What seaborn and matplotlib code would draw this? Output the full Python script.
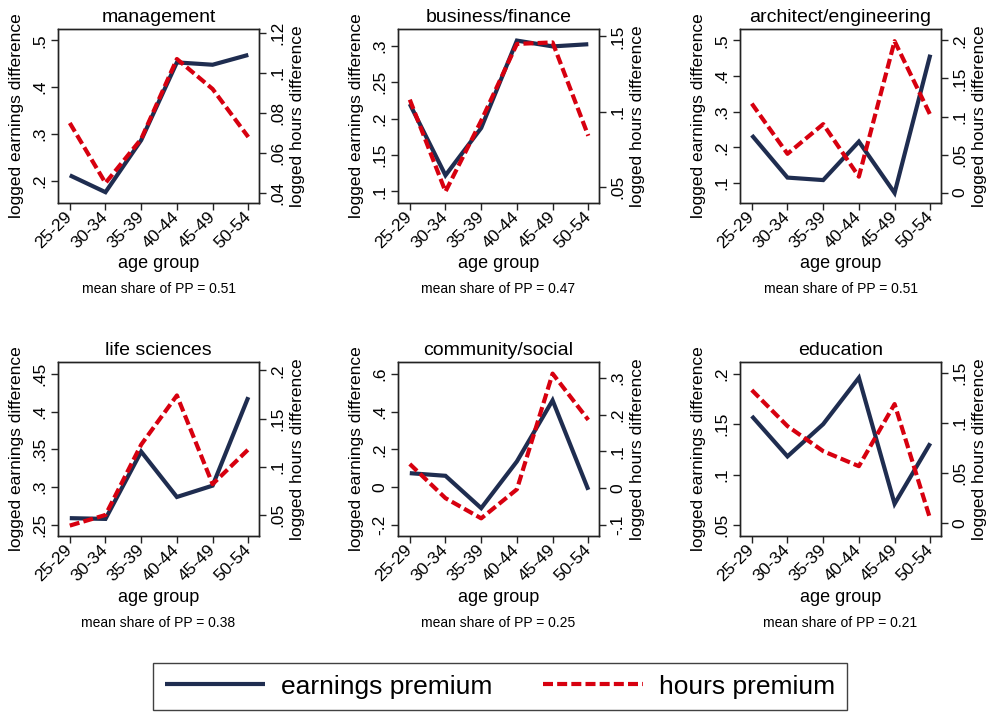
import matplotlib
matplotlib.use("Agg")
import numpy as np
import pandas as pd
import matplotlib.pyplot as plt
import seaborn as sns
from matplotlib.ticker import FuncFormatter, FixedLocator
from matplotlib.lines import Line2D

# ---------------- data ----------------
age_groups = ["25-29", "30-34", "35-39", "40-44", "45-49", "50-54"]
occupations = ["management", "business/finance", "architect/engineering",
               "life sciences", "community/social", "education"]
mean_share_pp = [0.51, 0.47, 0.51, 0.38, 0.25, 0.21]

earn_management = [0.212, 0.176, 0.287, 0.453, 0.448, 0.469]
hours_management = [0.075, 0.045, 0.067, 0.107, 0.092, 0.068]

earn_business = [0.220, 0.122, 0.187, 0.307, 0.299, 0.302]
hours_business = [0.108, 0.047, 0.094, 0.145, 0.146, 0.084]

earn_architect = [0.234, 0.115, 0.108, 0.216, 0.072, 0.460]
hours_architect = [0.117, 0.051, 0.090, 0.021, 0.199, 0.102]

earn_life = [0.259, 0.258, 0.347, 0.287, 0.302, 0.419]
hours_life = [0.039, 0.050, 0.123, 0.174, 0.082, 0.118]

earn_community = [0.074, 0.060, -0.111, 0.136, 0.459, -0.014]
hours_community = [0.066, -0.027, -0.082, -0.003, 0.312, 0.186]

earn_education = [0.158, 0.118, 0.150, 0.196, 0.071, 0.131]
hours_education = [0.133, 0.097, 0.072, 0.057, 0.119, 0.004]

earnings = [earn_management, earn_business, earn_architect,
            earn_life, earn_community, earn_education]
hours = [hours_management, hours_business, hours_architect,
         hours_life, hours_community, hours_education]

# axis ticks and ranges per panel
left_ticks = [[.2, .3, .4, .5], [.1, .15, .2, .25, .3], [.1, .2, .3, .4, .5],
              [.25, .3, .35, .4, .45], [-.2, 0, .2, .4, .6], [.05, .1, .15, .2]]
right_ticks = [[.04, .06, .08, .1, .12], [.05, .1, .15], [0, .05, .1, .15, .2],
               [.05, .1, .15, .2], [-.1, 0, .1, .2, .3], [0, .05, .1, .15]]
left_lims = [(.1529, .5243), (.084, .3229), (.0437, .532),
             (.2354, .4655), (-.2583, .6618), (.0391, .2116)]
right_lims = [(.035, .122), (.0394, .1549), (-.0136, .215),
              (.0282, .2087), (-.13, .3436), (-.0127, .161)]

# ---------------- style ----------------
sns.set_theme(style="ticks")
plt.rcParams["font.family"] = ["Liberation Sans", "DejaVu Sans"]
plt.rcParams["axes.edgecolor"] = "#222222"
plt.rcParams["axes.linewidth"] = 1.0
plt.rcParams["text.color"] = "black"
plt.rcParams["axes.labelcolor"] = "black"
plt.rcParams["xtick.color"] = "#222222"
plt.rcParams["ytick.color"] = "#222222"
plt.rcParams["xtick.labelcolor"] = "black"
plt.rcParams["ytick.labelcolor"] = "black"

NAVY = "#1f2d50"
RED = "#d7000f"
LW = 3.0
DASH = (0, (2.4, 1.0))
FS = 12.5


def stata_fmt(v, pos=None):
    v = round(v, 6)
    if v == 0:
        return "0"
    s = f"{v:g}"
    if s.startswith("0."):
        s = s[1:]
    elif s.startswith("-0."):
        s = "-" + s[2:]
    return s


fig = plt.figure(figsize=(9.9, 7.13), dpi=100)
fig.patch.set_facecolor("white")

lefts = [58 / 990, 398 / 990, 740 / 990]
bottoms = [1 - 203 / 713, 1 - 536 / 713]
W, H = 201 / 990, 174 / 713

for i, occ in enumerate(occupations):
    r, c = divmod(i, 3)
    ax = fig.add_axes([lefts[c], bottoms[r], W, H])
    df = pd.DataFrame({"age": age_groups, "earnings": earnings[i], "hours": hours[i]})
    sns.lineplot(data=df, x="age", y="earnings", ax=ax, color=NAVY, lw=LW,
                 solid_capstyle="butt", solid_joinstyle="miter", sort=False)
    ax2 = ax.twinx()
    sns.lineplot(data=df, x="age", y="hours", ax=ax2, color=RED, lw=LW,
                 linestyle=DASH, dash_capstyle="butt", sort=False)

    ax.set_xlim(-0.33, 5.3)
    ax.set_ylim(*left_lims[i])
    ax2.set_ylim(*right_lims[i])
    ax.yaxis.set_major_locator(FixedLocator(left_ticks[i]))
    ax2.yaxis.set_major_locator(FixedLocator(right_ticks[i]))
    ax.yaxis.set_major_formatter(FuncFormatter(stata_fmt))
    ax2.yaxis.set_major_formatter(FuncFormatter(stata_fmt))

    ax.set_xticks(range(len(age_groups)))
    ax.set_xticklabels(age_groups, rotation=45, ha="right", va="center",
                       rotation_mode="anchor", fontsize=FS, color="black")
    ax.tick_params(axis="x", length=5, width=1, pad=3)
    ax.tick_params(axis="y", length=5, width=1, pad=3, labelsize=FS,
                   labelrotation=90)
    ax2.tick_params(axis="y", length=5, width=1, pad=3, labelsize=FS,
                    labelrotation=90)
    for lab in ax.get_yticklabels():
        lab.set_va("center")
    for lab in ax2.get_yticklabels():
        lab.set_va("center")

    ax.set_ylabel("")
    ax2.set_ylabel("")
    ax.set_xlabel("age group", fontsize=13, color="black")
    ax.xaxis.set_label_coords(0.5, -0.30 if r == 0 else -0.305)
    ax.text(-0.204, 0.5, "logged earnings difference", transform=ax.transAxes,
            rotation=90, ha="center", va="center", fontsize=FS, color="black")
    ax2.text(1.19, 0.5, "logged hours difference", transform=ax2.transAxes,
             rotation=90, ha="center", va="center", fontsize=FS, color="black")
    ax.set_title(occ, fontsize=14, pad=5, color="black")
    ax.text(0.5, -0.494 if r == 0 else -0.5, f"mean share of PP = {mean_share_pp[i]:.2f}",
            transform=ax.transAxes, ha="center", va="center", fontsize=10, color="black")

handles = [Line2D([], [], color=NAVY, lw=LW, solid_capstyle="butt"),
           Line2D([], [], color=RED, lw=LW, linestyle=DASH, dash_capstyle="butt")]
leg = fig.legend(handles, ["earnings premium", "hours premium"], loc="center",
                 bbox_to_anchor=(0.505, 0.037), ncol=2, fontsize=19,
                 frameon=True, fancybox=False, edgecolor="#111111",
                 handlelength=3.8, handletextpad=0.6, columnspacing=1.9,
                 borderpad=0.45, borderaxespad=0)
leg.get_frame().set_linewidth(1.0)
for t in leg.get_texts():
    t.set_color("black")

fig.savefig("out.png", dpi=100, facecolor="white")
